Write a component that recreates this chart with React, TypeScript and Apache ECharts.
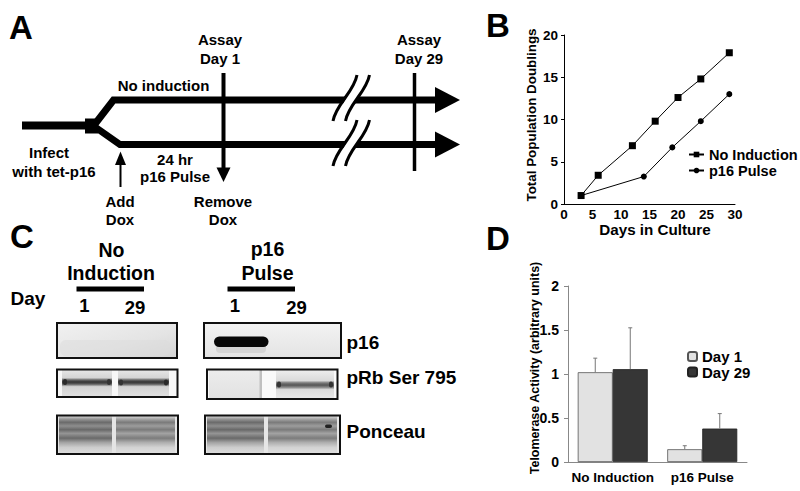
import React, { useEffect, useRef } from "react";
import * as echarts from "echarts";

const FONT = '"Liberation Sans", Arial, Helvetica, sans-serif';

// Panel B data
const daysNoInduction = [3, 6, 12, 16, 20, 24, 29];
const pdNoInduction = [1, 3.4, 6.9, 9.8, 12.6, 14.8, 17.9];
const daysPulse = [3, 14, 19, 24, 29];
const pdPulse = [1, 3.25, 6.7, 9.8, 13.0];

// Panel D data
const telCategories = ["No Induction", "p16 Pulse"];
const telDay1 = [1.02, 0.145];
const telDay29 = [1.055, 0.38];
const errDay1 = [0.16, 0.04];
const errDay29 = [0.47, 0.17];

function txt(text: string, x: number, y: number, size: number, align = "center", extra: any = {}) {
  return {
    type: "text",
    x,
    y,
    z: 10,
    ...extra,
    style: {
      text,
      fill: "#000",
      fontSize: size,
      fontWeight: "bold",
      fontFamily: FONT,
      align,
      verticalAlign: "middle",
    },
  };
}
function ln(x1: number, y1: number, x2: number, y2: number, w: number, color = "#000") {
  return { type: "line", z: 5, shape: { x1, y1, x2, y2 }, style: { stroke: color, lineWidth: w } };
}
function rc(x: number, y: number, w: number, h: number, fill: any, extra: any = {}) {
  return { type: "rect", z: 3, shape: { x, y, width: w, height: h, r: extra.r || 0 }, style: { fill, opacity: extra.opacity ?? 1 } };
}
function tri(points: number[][]) {
  return { type: "polygon", z: 6, shape: { points }, style: { fill: "#000" } };
}
function border(x: number, y: number, w: number, h: number) {
  return { type: "rect", z: 8, shape: { x, y, width: w, height: h }, style: { fill: "none", stroke: "#111", lineWidth: 2 } };
}
function vgrad(stops: [number, string][]) {
  return { type: "linear", x: 0, y: 0, x2: 0, y2: 1, colorStops: stops.map(([offset, color]) => ({ offset, color })) };
}
function breakMark(dy: number) {
  const c = (ox: number) => ({
    type: "bezierCurve",
    z: 7,
    shape: { x1: 333 + ox, y1: 121 + dy, cpx1: 336 + ox, cpy1: 104 + dy, cpx2: 354 + ox, cpy2: 92 + dy, x2: 357 + ox, y2: 75 + dy },
    style: { stroke: "#000", lineWidth: 3, fill: "none" },
  });
  return [
    { type: "polygon", z: 6, shape: { points: [[334, 121 + dy], [358, 75 + dy], [369, 75 + dy], [346, 121 + dy]] }, style: { fill: "#fff" } },
    c(0),
    c(12.5),
  ];
}

const ponceauDark: [number, string][] = [
  [0, "#d8d8d8"], [0.08, "#9a9a9a"], [0.17, "#6a6a6a"], [0.27, "#8e8e8e"], [0.37, "#686868"],
  [0.47, "#959595"], [0.6, "#6a6a6a"], [0.72, "#a5a5a5"], [0.85, "#cdcdcd"], [1, "#dcdcdc"],
];
const ponceauLight: [number, string][] = [
  [0, "#dcdcdc"], [0.08, "#a8a8a8"], [0.17, "#7a7a7a"], [0.27, "#9c9c9c"], [0.37, "#7a7a7a"],
  [0.47, "#a3a3a3"], [0.6, "#7c7c7c"], [0.72, "#b0b0b0"], [0.85, "#d3d3d3"], [1, "#dedede"],
];
const rbBand: [number, string][] = [
  [0, "#e6e6e6"], [0.3, "#d4d4d4"], [0.38, "#6a6a6a"], [0.46, "#333"], [0.54, "#5a5a5a"], [0.64, "#d2d2d2"], [1, "#e0e0e0"],
];
const rbBandLight: [number, string][] = [
  [0, "#eeeeee"], [0.38, "#dadada"], [0.46, "#7a7a7a"], [0.54, "#555"], [0.62, "#8a8a8a"], [0.7, "#dcdcdc"], [1, "#e8e8e8"],
];

function buildGraphics() {
  const g: any[] = [];
  // Panel letters
  g.push(txt("A", 9, 27, 33, "left"));
  g.push(txt("B", 486, 25, 33, "left"));
  g.push(txt("C", 10, 236, 33, "left"));
  g.push(txt("D", 486, 238, 33, "left"));

  // ---- Panel A schematic ----
  g.push(ln(22, 125.5, 90, 125.5, 8));
  g.push(rc(85, 118.5, 13, 15, "#000"));
  g.push({ type: "polyline", z: 5, shape: { points: [[95, 124], [113.5, 100], [437, 100]] }, style: { stroke: "#000", lineWidth: 7, fill: "none", lineJoin: "miter" } });
  g.push({ type: "polyline", z: 5, shape: { points: [[95, 127], [120, 144.5], [437, 144.5]] }, style: { stroke: "#000", lineWidth: 7, fill: "none", lineJoin: "miter" } });
  g.push(tri([[435, 87], [460, 100], [435, 113]]));
  g.push(tri([[435, 131.5], [460, 144.5], [435, 157.5]]));
  g.push(...breakMark(0));
  g.push(...breakMark(45));
  g.push(ln(223.5, 73, 223.5, 170, 4));
  g.push(tri([[216.5, 167.5], [230.5, 167.5], [223.5, 182]]));
  g.push(ln(414.5, 73, 414.5, 171, 3.5));
  g.push(ln(120.5, 162, 120.5, 187, 2));
  g.push(tri([[115, 165], [120.5, 151.5], [126, 165]]));
  g.push(txt("Assay", 220, 39.5, 15));
  g.push(txt("Day 1", 220, 58.5, 15));
  g.push(txt("Assay", 419, 39.5, 15));
  g.push(txt("Day 29", 419, 58.5, 15));
  g.push(txt("No induction", 163.5, 85, 15));
  g.push(txt("Infect", 49, 152.5, 15));
  g.push(txt("with tet-p16", 54, 171.5, 15));
  g.push(txt("24 hr", 175, 159.5, 15));
  g.push(txt("p16 Pulse", 175, 176.5, 15));
  g.push(txt("Add", 120, 201, 15));
  g.push(txt("Dox", 120, 219.5, 15));
  g.push(txt("Remove", 223, 201, 15));
  g.push(txt("Dox", 223, 219.5, 15));

  // ---- Panel C blots ----
  g.push(txt("No", 111.5, 249.5, 19.5));
  g.push(txt("Induction", 111, 272.5, 19.5));
  g.push(txt("p16", 267.5, 248.5, 19.5));
  g.push(txt("Pulse", 267.5, 272.5, 19.5));
  g.push(rc(76.5, 286.5, 67.5, 5, "#000"));
  g.push(rc(227.5, 286.5, 67.5, 5, "#000"));
  g.push(txt("Day", 10.5, 298.5, 19, "left"));
  g.push(txt("1", 84.5, 305.5, 18.5));
  g.push(txt("29", 135, 307.5, 18.5));
  g.push(txt("1", 235, 305.5, 18.5));
  g.push(txt("29", 296.5, 307.5, 18.5));
  g.push(txt("p16", 346.5, 342.5, 19, "left"));
  g.push(txt("pRb Ser 795", 346.5, 377.5, 19, "left"));
  g.push(txt("Ponceau", 346.5, 431, 19, "left"));

  // p16 row
  g.push(rc(57, 323, 120, 35, { type: "linear", x: 0, y: 0, x2: 1, y2: 1, colorStops: [{ offset: 0, color: "#f1f1f1" }, { offset: 0.6, color: "#e4e4e4" }, { offset: 1, color: "#d4d4d4" }] }));
  g.push(rc(60, 340, 110, 16, "#dcdcdc", { r: 6, opacity: 0.5 }));
  g.push(border(57, 323, 120, 35));
  g.push(rc(204, 323, 137, 35, vgrad([[0, "#f3f3f3"], [1, "#e3e3e3"]])));
  g.push(rc(216, 344, 50, 9, "#cfcfcf", { r: 4, opacity: 0.8 }));
  g.push(rc(214, 336.5, 54.5, 10.5, "#080808", { r: 5.25 }));
  g.push(border(204, 323, 137, 35));

  // pRb row
  g.push(rc(57, 369.5, 120.5, 27.5, "#f7f7f7"));
  g.push(rc(62, 370, 50, 26, vgrad(rbBand)));
  g.push(rc(118, 370, 51, 26, vgrad(rbBand)));
  g.push(rc(63, 379, 4, 6, "#2a2a2a", { r: 2 }));
  g.push(rc(107, 379, 4, 6, "#333", { r: 2 }));
  g.push(rc(119, 379.5, 4, 6, "#333", { r: 2 }));
  g.push(rc(164, 379.5, 4, 6, "#2a2a2a", { r: 2 }));
  g.push(border(57, 369.5, 120.5, 27.5));
  g.push(rc(207, 369.5, 130.5, 29.5, "#f9f9f9"));
  g.push(rc(209, 370, 53, 28, vgrad([[0, "#ececec"], [1, "#e2e2e2"]])));
  g.push(rc(259.5, 370, 2.5, 28, "#c0c0c0"));
  g.push(rc(276, 370, 58, 28, vgrad(rbBandLight)));
  g.push(rc(277, 381.5, 4, 6, "#333", { r: 2 }));
  g.push(rc(329, 381.5, 4, 6, "#333", { r: 2 }));
  g.push(border(207, 369.5, 130.5, 29.5));

  // Ponceau row
  g.push(rc(57, 415.5, 121, 38.5, "#e4e4e4"));
  g.push(rc(59, 416, 53, 37, vgrad(ponceauDark)));
  g.push(rc(116, 416, 59, 37, vgrad(ponceauLight)));
  g.push(border(57, 415.5, 121, 38.5));
  g.push(rc(205, 415.5, 135, 38.5, "#e6e6e6"));
  g.push(rc(207, 416, 57, 37, vgrad(ponceauDark)));
  g.push(rc(268, 416, 69, 37, vgrad(ponceauLight)));
  g.push(rc(325, 424.5, 7, 3.5, "#222", { r: 1.7 }));
  g.push(border(205, 415.5, 135, 38.5));

  // Axis titles for B and D
  g.push(txt("Total Population Doublings", 531.5, 115, 13.4, "center", { rotation: Math.PI / 2 }));
  g.push(txt("Days in Culture", 655, 229, 15.2));
  g.push(txt("Telomerase Activity (arbitrary units)", 535, 368, 12.5, "center", { rotation: Math.PI / 2 }));
  return g;
}

export default function App() {
  const ref = useRef<HTMLDivElement>(null);
  useEffect(() => {
    if (!ref.current) return;
    const chart = echarts.init(ref.current, undefined, { renderer: "svg" });
    const axisLabelB = { color: "#000", fontWeight: "bold", fontSize: 13.5, fontFamily: FONT };
    const legendText = { color: "#000", fontWeight: "bold", fontSize: 14.5, lineHeight: 14, fontFamily: FONT };
    const errorSeries = (name: string, vals: number[], errs: number[], off: number) => ({
      type: "custom",
      name,
      xAxisIndex: 1,
      yAxisIndex: 1,
      z: 5,
      data: vals.map((v, i) => [i, v, errs[i]]),
      renderItem: (params: any, api: any) => {
        const ci = api.value(0);
        const v = api.value(1);
        const e = api.value(2);
        const b = api.coord([ci, v]);
        const t = api.coord([ci, v + e]);
        const x = b[0] + off;
        return {
          type: "group",
          children: [
            { type: "line", shape: { x1: x, y1: b[1], x2: x, y2: t[1] }, style: { stroke: "#777", lineWidth: 1 } },
            { type: "line", shape: { x1: x - 2, y1: t[1], x2: x + 2, y2: t[1] }, style: { stroke: "#777", lineWidth: 1 } },
          ],
        };
      },
    });
    chart.setOption({
      animation: false,
      backgroundColor: "#fff",
      textStyle: { fontFamily: FONT },
      grid: [
        { left: 564, top: 35, width: 171, height: 169 },
        { left: 568, top: 286, width: 179, height: 176 },
      ],
      xAxis: [
        {
          gridIndex: 0,
          type: "value",
          min: 0,
          max: 30,
          interval: 5,
          splitLine: { show: false },
          axisLine: { lineStyle: { color: "#000", width: 1 } },
          axisTick: { show: false },
          axisLabel: { ...axisLabelB, margin: 3 },
        },
        {
          gridIndex: 1,
          type: "category",
          data: telCategories,
          axisLine: { lineStyle: { color: "#888", width: 1 } },
          axisTick: { inside: true, length: 4, lineStyle: { color: "#888" } },
          axisLabel: { color: "#000", fontWeight: "bold", fontSize: 13.5, fontFamily: FONT, margin: 8, interval: 0 },
        },
      ],
      yAxis: [
        {
          gridIndex: 0,
          type: "value",
          min: 0,
          max: 20,
          interval: 5,
          splitLine: { show: false },
          axisLine: { show: true, lineStyle: { color: "#000", width: 1 } },
          axisTick: { show: true, length: 3, lineStyle: { color: "#000" } },
          axisLabel: { ...axisLabelB, margin: 6 },
        },
        {
          gridIndex: 1,
          type: "value",
          min: 0,
          max: 2,
          interval: 0.5,
          splitLine: { show: false },
          axisLine: { show: true, lineStyle: { color: "#888", width: 1 } },
          axisTick: { show: true, length: 4, lineStyle: { color: "#888" } },
          axisLabel: { color: "#000", fontWeight: "bold", fontSize: 14, fontFamily: FONT, margin: 9 },
        },
      ],
      legend: [
        {
          data: ["No Induction"],
          left: 683,
          top: 142,
          itemWidth: 15,
          itemHeight: 7,
          textStyle: legendText,
        },
        {
          data: ["p16 Pulse"],
          left: 683,
          top: 158,
          itemWidth: 15,
          itemHeight: 7,
          textStyle: legendText,
        },
        {
          data: ["Day 1", "Day 29"],
          left: 682,
          top: 344,
          orient: "vertical",
          itemWidth: 9,
          itemHeight: 9,
          itemGap: 0.5,
          textStyle: { color: "#000", fontWeight: "bold", fontSize: 15, lineHeight: 15, fontFamily: FONT },
        },
      ],
      series: [
        {
          type: "line",
          name: "No Induction",
          xAxisIndex: 0,
          yAxisIndex: 0,
          data: daysNoInduction.map((d, i) => [d, pdNoInduction[i]]),
          symbol: "rect",
          symbolSize: 7,
          itemStyle: { color: "#000" },
          lineStyle: { color: "#000", width: 1 },
        },
        {
          type: "line",
          name: "p16 Pulse",
          xAxisIndex: 0,
          yAxisIndex: 0,
          data: daysPulse.map((d, i) => [d, pdPulse[i]]),
          symbol: "circle",
          symbolSize: 6,
          itemStyle: { color: "#000" },
          lineStyle: { color: "#000", width: 1 },
        },
        {
          type: "bar",
          name: "Day 1",
          xAxisIndex: 1,
          yAxisIndex: 1,
          data: telDay1,
          barWidth: 35,
          barGap: "0%",
          itemStyle: { color: "#e2e2e2", borderColor: "#555", borderWidth: 0.8 },
        },
        {
          type: "bar",
          name: "Day 29",
          xAxisIndex: 1,
          yAxisIndex: 1,
          data: telDay29,
          barWidth: 35,
          barGap: "0%",
          itemStyle: { color: "#363636", borderColor: "#222", borderWidth: 0.8 },
        },
        errorSeries("errDay1", telDay1, errDay1, -17.5),
        errorSeries("errDay29", telDay29, errDay29, 17.5),
      ],
      graphic: buildGraphics(),
    });
    return () => chart.dispose();
  }, []);
  return (
    <div style={{ position: "fixed", left: 0, top: 0, width: 800, height: 491, background: "#fff" }}>
      <div ref={ref} style={{ width: 800, height: 491 }} />
    </div>
  );
}
